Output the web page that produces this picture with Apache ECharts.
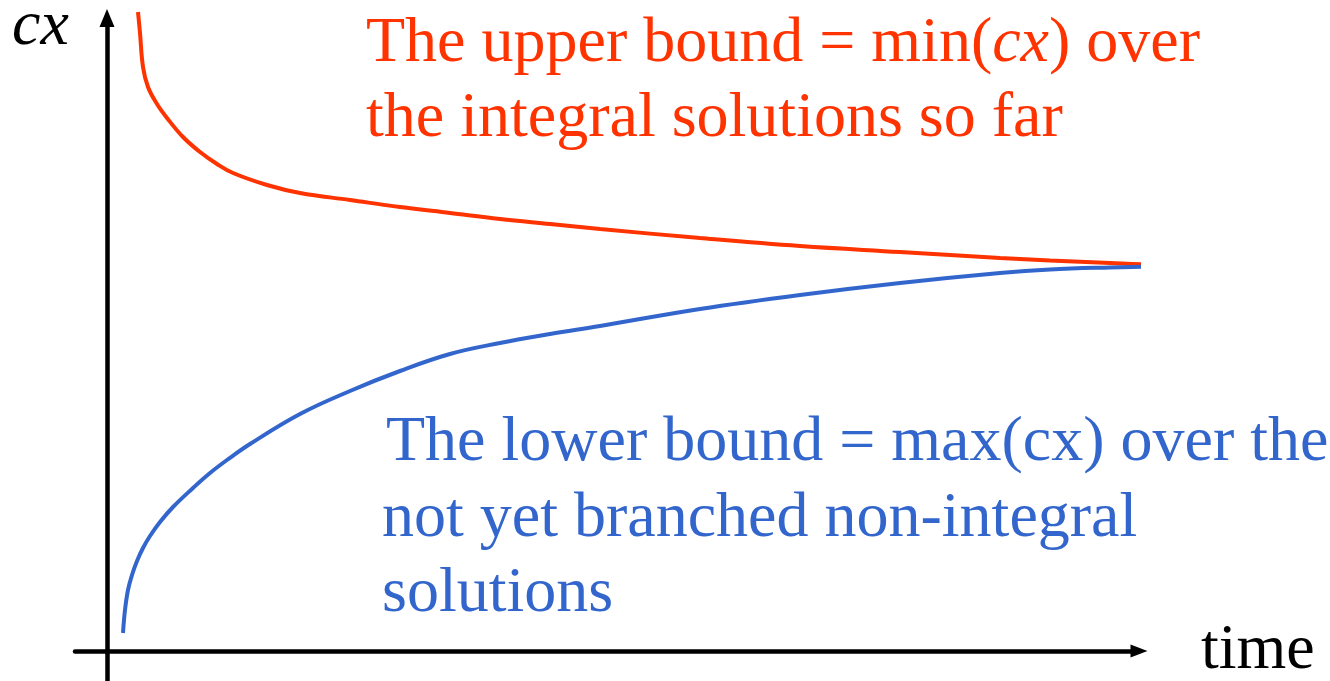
<!DOCTYPE html>
<html>
<head>
<meta charset="utf-8">
<script src="https://cdn.jsdelivr.net/npm/echarts@6/dist/echarts.min.js"></script>
<style>
  html, body { margin: 0; padding: 0; background: #fff; overflow: hidden; }
  #wrap { position: relative; width: 1330px; height: 681px; }
  #chart { width: 1330px; height: 681px; }
  .note {
    position: absolute; white-space: nowrap; pointer-events: none;
    font-family: 'Liberation Serif', 'Times New Roman', serif;
    font-size: 64px; line-height: 64px;
  }
  .red { color: #ff3300; }
  .blue { color: #3366cc; }
</style>
</head>
<body>
<div id="wrap">
  <div id="chart"></div>
  <div class="note" style="left:12px; top:3px; line-height:40px;"><i>cx</i></div>
  <div class="note" style="left:1201px; top:615px;">time</div>
  <div class="note red" style="left:366px; top:8px;">The upper bound = min(<i>cx</i>) over</div>
  <div class="note red" style="left:366px; top:83px;">the integral solutions so far</div>
  <div class="note blue" style="left:386px; top:407px;">The lower bound = max(cx) over the</div>
  <div class="note blue" style="left:382px; top:483px;">not yet branched non-integral</div>
  <div class="note blue" style="left:382px; top:558px;">solutions</div>
</div>
<script>
// upper bound: min(cx) over integral solutions found so far
const upperTime = [3.1, 3.3, 3.6, 4.1, 5.0, 6.0, 7.6, 9.3, 11.0, 12.6, 16.0, 19.3, 24.3, 29.3, 34.3, 39.3, 44.3, 49.3, 59.3, 69.3, 79.3, 89.3, 94.3, 100.3, 107.1];
const upperCx   = [63.9, 61.8, 58.4, 56.4, 54.7, 53.3, 51.4, 49.9, 48.7, 47.8, 46.6, 45.8, 45.1, 44.4, 43.8, 43.2, 42.7, 42.2, 41.3, 40.5, 39.9, 39.3, 39.05, 38.8, 38.5];

// lower bound: max(cx) over the not yet branched non-integral solutions
const lowerTime = [1.6, 1.8, 2.1, 2.5, 3.0, 3.6, 4.3, 5.3, 6.6, 8.6, 10.3, 12.0, 14.3, 19.3, 24.3, 29.3, 34.3, 39.3, 44.3, 49.3, 59.3, 69.3, 79.3, 89.3, 94.3, 100.3, 107.1];
const lowerCx   = [1.8, 4.1, 6.1, 7.6, 9.0, 10.3, 11.5, 12.9, 14.4, 16.3, 17.8, 19.1, 20.7, 23.7, 26.0, 28.0, 29.7, 30.8, 31.7, 32.5, 34.2, 35.6, 36.8, 37.8, 38.15, 38.35, 38.5];

const RED = '#ff3300';
const BLUE = '#3366cc';

const pairs = (xs, ys) => xs.map((x, i) => [x, ys[i]]);

const axisLine = (size) => ({
  show: true,
  onZero: true,
  symbol: ['none', 'triangle'],
  symbolSize: size,
  lineStyle: { color: '#000', width: 4.5 }
});

const chart = echarts.init(document.getElementById('chart'));
chart.setOption({
  animation: false,
  grid: { left: 75, right: 191, top: 18, bottom: 0 },
  xAxis: {
    type: 'value', min: -3.2, max: 103.2,
    axisLine: axisLine([13, 17]),
    axisTick: { show: false }, axisLabel: { show: false }, splitLine: { show: false }
  },
  yAxis: {
    type: 'value', min: -3, max: 63.3,
    axisLine: axisLine([15, 18]),
    axisTick: { show: false }, axisLabel: { show: false }, splitLine: { show: false }
  },
  series: [
    {
      name: 'upper bound', type: 'line', data: pairs(upperTime, upperCx),
      smooth: 0.4, symbol: 'none', clip: false,
      lineStyle: { color: RED, width: 4 }
    },
    {
      name: 'lower bound', type: 'line', data: pairs(lowerTime, lowerCx),
      smooth: 0.4, symbol: 'none', clip: false,
      lineStyle: { color: BLUE, width: 4 }
    }
  ]
});
</script>
</body>
</html>
